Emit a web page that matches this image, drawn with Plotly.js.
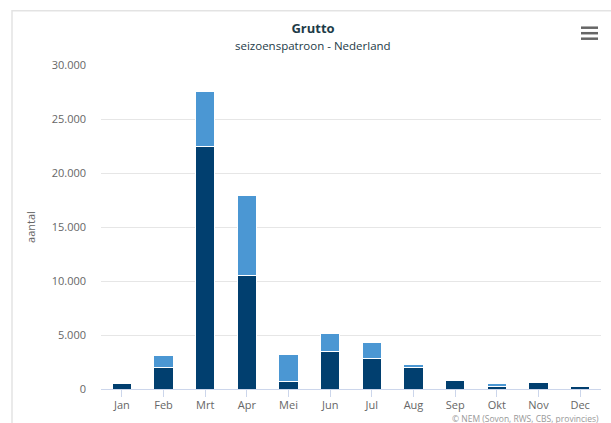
<!DOCTYPE html>
<html>
<head>
<meta charset="utf-8">
<script src="https://cdn.plot.ly/plotly-3.0.1.min.js"></script>
<style>
  html, body { margin: 0; padding: 0; background: #ffffff; }
  #chart { width: 611px; height: 423px; }
</style>
</head>
<body>
<div id="chart"></div>
<script>
// Data
const months = ["Jan", "Feb", "Mrt", "Apr", "Mei", "Jun", "Jul", "Aug", "Sep", "Okt", "Nov", "Dec"];
const geteld = [490, 1950, 22460, 10520, 710, 3460, 2840, 2000, 770, 250, 580, 210];
const bijgeschat = [0, 1130, 5100, 7410, 2470, 1660, 1510, 290, 0, 240, 0, 0];
const yTicks = [0, 5000, 10000, 15000, 20000, 25000, 30000];

const chartTitle = "Grutto";
const chartSubtitle = "seizoenspatroon - Nederland";
const yTitle = "aantal";
const credit = "© NEM (Sovon, RWS, CBS, provincies)";

const fontFamily = "'Open Sans', 'DejaVu Sans', sans-serif";

const traces = [
  {
    type: "bar", name: "geteld", x: months, y: geteld,
    marker: { color: "#013f6f", line: { color: "#ffffff", width: 1 } },
    hoverinfo: "x+y+name"
  },
  {
    type: "bar", name: "bijgeschat", x: months, y: bijgeschat,
    marker: { color: "#4b97d3", line: { color: "#ffffff", width: 1 } },
    hoverinfo: "x+y+name"
  }
];

const layout = {
  width: 611, height: 423,
  margin: { l: 101, r: 10, t: 65, b: 34 },
  paper_bgcolor: "#ffffff", plot_bgcolor: "#ffffff",
  separators: ",.",
  barmode: "stack",
  bargap: 0.53,
  showlegend: false,
  font: { family: fontFamily, color: "#666666", size: 11 },
  title: {
    text: "<b>" + chartTitle + "</b>",
    x: 313 / 611, xref: "container", xanchor: "center",
    y: 1 - 28 / 423, yref: "container", yanchor: "middle",
    font: { family: fontFamily, size: 13, color: "#1d3b48" }
  },
  xaxis: {
    type: "category",
    showline: true, linecolor: "#ccd6eb", linewidth: 1,
    ticks: "outside", ticklen: 7, tickcolor: "#ccd6eb", tickwidth: 1,
    ticklabelstandoff: -1,
    tickfont: { family: fontFamily, size: 11, color: "#666666" },
    showgrid: false, zeroline: false, fixedrange: true
  },
  yaxis: {
    range: [0, 30000],
    tickvals: yTicks, tickformat: ",",
    showgrid: true, gridcolor: "#e6e6e6", gridwidth: 1,
    zeroline: false, showline: false, ticks: "",
    ticklabelstandoff: 14,
    tickfont: { family: fontFamily, size: 11, color: "#666666" },
    title: { text: yTitle, standoff: 13, font: { family: fontFamily, size: 11, color: "#666666" } },
    fixedrange: true
  },
  annotations: [
    {
      text: chartSubtitle, xref: "paper", yref: "paper",
      x: (313 - 101) / 500, y: (389.3 - 46) / 324,
      xanchor: "center", yanchor: "middle", showarrow: false,
      font: { family: fontFamily, size: 11.5, color: "#1d3b48" }
    },
    {
      text: credit, xref: "paper", yref: "paper",
      x: 1.0, y: (389.3 - 418.5) / 324,
      xanchor: "right", yanchor: "middle", showarrow: false,
      font: { family: fontFamily, size: 8.5, color: "#999999" }
    }
  ],
  shapes: [
    { type: "rect", xref: "paper", yref: "paper",
      x0: -0.178, x1: 1.06, y0: -0.3, y1: (389.3 - 11) / 324,
      line: { color: "#e3e3e3", width: 1.5 }, fillcolor: "rgba(0,0,0,0)", layer: "below" },
    { type: "line", xref: "paper", yref: "paper", x0: 0.96, x1: 0.994, y0: (389.3 - 28) / 324, y1: (389.3 - 28) / 324, line: { color: "#666666", width: 2.5 } },
    { type: "line", xref: "paper", yref: "paper", x0: 0.96, x1: 0.994, y0: (389.3 - 33.5) / 324, y1: (389.3 - 33.5) / 324, line: { color: "#666666", width: 2.5 } },
    { type: "line", xref: "paper", yref: "paper", x0: 0.96, x1: 0.994, y0: (389.3 - 39) / 324, y1: (389.3 - 39) / 324, line: { color: "#666666", width: 2.5 } }
  ]
};

Plotly.newPlot("chart", traces, layout, { displayModeBar: false, staticPlot: false, responsive: false });
</script>
</body>
</html>
